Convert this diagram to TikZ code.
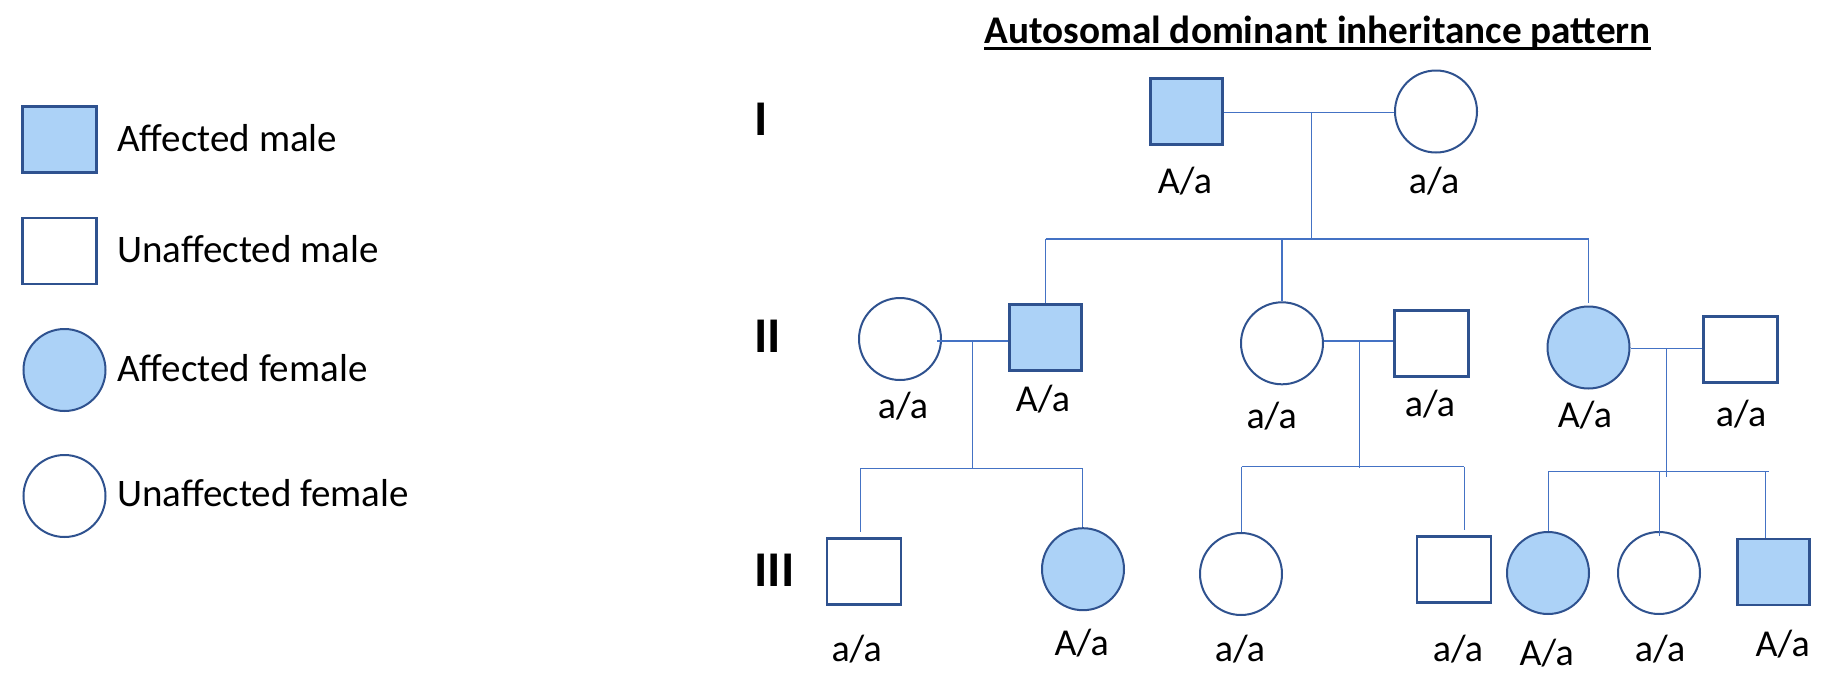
\documentclass[tikz,border=0pt]{standalone}
\usepackage{fontspec}
\setmainfont{Carlito}
\definecolor{edgeblue}{RGB}{47,82,143}
\definecolor{lineblue}{RGB}{68,114,196}
\definecolor{fillblue}{RGB}{172,210,247}
\begin{document}
\begin{tikzpicture}[x=0.5pt,y=-0.5pt,
  male/.style={draw=edgeblue,line width=1.3pt,rectangle,minimum width=36pt,minimum height=33pt,inner sep=0pt},
  female/.style={draw=edgeblue,line width=1pt,circle,minimum size=41pt,inner sep=0pt},
  aff/.style={fill=fillblue},
  unaff/.style={fill=white},
  conn/.style={draw=lineblue,line width=0.65pt},
  geno/.style={font=\fontsize{19}{22}\selectfont,anchor=base,inner sep=0pt},
  legtext/.style={font=\fontsize{19.5}{24}\selectfont,anchor=base west,inner sep=0pt},
  gen/.style={font=\fontsize{25}{30}\selectfont\bfseries,anchor=base west,inner sep=0pt}]
\useasboundingbox (0,0) rectangle (1844,686);

% legend
\node[male,aff,minimum width=37pt] (Lam) at (59.5,139.5) {};
\node[male,unaff,minimum width=37pt] (Lum) at (59.5,251) {};
\node[female,aff] (Laf) at (64.5,370) {};
\node[female,unaff] (Luf) at (64.5,496) {};
\node[legtext] (Tam) at (117,151.7) {Affected male};
\node[legtext] (Tum) at (117,262.7) {Unaffected male};
\node[legtext] (Taf) at (117,381.7) {Affected female};
\node[legtext] (Tuf) at (117,506.7) {Unaffected female};

% title
\node[font=\fontsize{19.6}{24}\selectfont\bfseries,anchor=base west,inner sep=0pt] (title) at (984,43) {Autosomal dominant inheritance pattern};
\draw[line width=1.5pt] ([yshift=-2.6pt]title.base west) -- ([yshift=-2.6pt]title.base east);

% generation labels
\node[gen] (gI) at (754,135) {I};
\node[gen] (gII) at (754,352) {II};
\node[gen] (gIII) at (754,586) {III};

% generation I
\node[male,aff] (I1) at (1186.5,111.5) {};
\node[female,unaff] (I2) at (1436,111.5) {};
\node[geno] (tI1) at (1185,193) {A/a};
\node[geno] (tI2) at (1434,193) {a/a};

% generation II
\node[female,unaff] (II1) at (900,339) {};
\node[male,aff] (II2) at (1045.5,337.5) {};
\node[female,unaff] (II3) at (1282,343.3) {};
\node[male,unaff,minimum width=37pt] (II4) at (1431.5,343.3) {};
\node[female,aff] (II5) at (1588.5,347.5) {};
\node[male,unaff,minimum width=37pt] (II6) at (1740.5,349.5) {};
\node[geno] (tII1) at (903,418) {a/a};
\node[geno] (tII2) at (1043,411.7) {A/a};
\node[geno] (tII3) at (1271.7,428) {a/a};
\node[geno] (tII4) at (1430,416.7) {a/a};
\node[geno] (tII5) at (1585,427) {A/a};
\node[geno] (tII6) at (1741,426.7) {a/a};

% generation III
\node[male,unaff,minimum width=37pt] (III1) at (864,571.3) {};
\node[female,aff] (III2) at (1083,569.2) {};
\node[female,unaff] (III3) at (1241,574) {};
\node[male,unaff,minimum width=37pt] (III4) at (1453.8,569.5) {};
\node[female,aff] (III5) at (1548,573) {};
\node[female,unaff] (III6) at (1659,573) {};
\node[male,aff] (III7) at (1773.2,571.8) {};
\node[geno] (tIII1) at (856.7,661.7) {a/a};
\node[geno] (tIII2) at (1081.7,655) {A/a};
\node[geno] (tIII3) at (1240,661) {a/a};
\node[geno] (tIII4) at (1458,661.7) {a/a};
\node[geno] (tIII5) at (1546.7,665) {A/a};
\node[geno] (tIII6) at (1660,661.7) {a/a};
\node[geno] (tIII7) at (1782.7,656.7) {A/a};

% connectors: generation I
\coordinate (mI) at (1311.7,112.5);
\coordinate (sI) at (1311.7,239);
\draw[conn] (I1.east |- mI) -- (I2.west |- mI);
\draw[conn] (mI) -- (sI);
\draw[conn] (II2.north |- sI) -- (II5.north |- sI);
\draw[conn] (II2.north |- sI) -- (II2.north);
\draw[conn] (II3.north |- sI) -- (II3.north);
\draw[conn,shorten >=1.5pt] (II5.north |- sI) -- (II5.north);

% connectors: couple II1-II2
\coordinate (mII1) at (972.5,341);
\coordinate (sII1) at (972.5,468.3);
\coordinate (dIII1) at (860.7,468.3);
\coordinate (dIII2) at (1082.3,468.3);
\draw[conn,shorten <=-2.5pt] (II1.east |- mII1) -- (II2.west |- mII1);
\draw[conn] (mII1) -- (sII1);
\draw[conn] (dIII1) -- (dIII2);
\draw[conn,shorten >=2.5pt] (dIII1) -- (dIII1 |- III1.north);
\draw[conn] (dIII2) -- (dIII2 |- III2.north);

% connectors: couple II3-II4
\coordinate (mII2) at (1359.5,341);
\coordinate (sII2) at (1359.5,468);
\coordinate (dIII3) at (1241.7,466.5);
\coordinate (dIII4) at (1464.3,466.5);
\draw[conn] (II3.east |- mII2) -- (II4.west |- mII2);
\draw[conn] (mII2) -- (sII2);
\draw[conn] (dIII3) -- (dIII4);
\draw[conn] (dIII3) -- (dIII3 |- III3.north);
\draw[conn,shorten >=2.5pt] (dIII4) -- (dIII4 |- III4.north);

% connectors: couple II5-II6
\coordinate (mII3) at (1666.7,348.3);
\coordinate (sII3) at (1666.7,477);
\coordinate (dIII5) at (1548.3,471.7);
\coordinate (dIII6) at (1659.3,471.7);
\coordinate (dIII7) at (1765.7,471.7);
\coordinate (eIII) at (1769,471.7);
\draw[conn] (II5.east |- mII3) -- (II6.west |- mII3);
\draw[conn] (mII3) -- (sII3);
\draw[conn] (dIII5) -- (eIII);
\draw[conn] (dIII5) -- (dIII5 |- III5.north);
\draw[conn,shorten >=-2.5pt] (dIII6) -- (dIII6 |- III6.north);
\draw[conn] (dIII7) -- (dIII7 |- III7.north);
\end{tikzpicture}
\end{document}
